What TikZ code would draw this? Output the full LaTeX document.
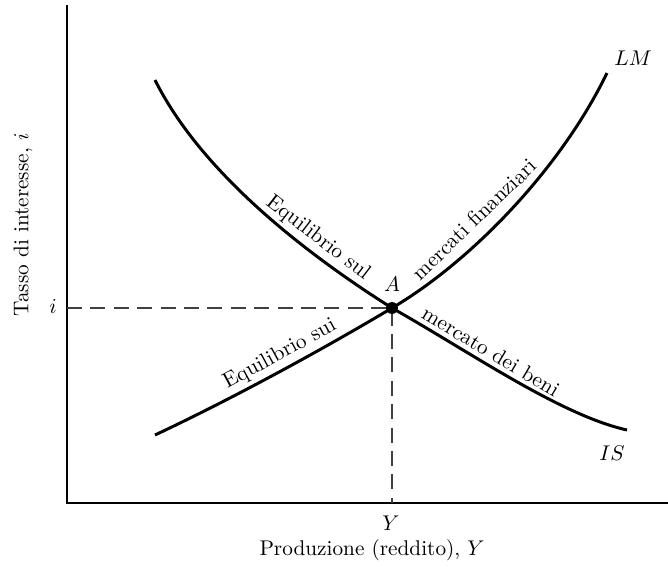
\documentclass[tikz,border=0pt]{standalone}
\usepackage{amsmath,amssymb}
\usetikzlibrary{positioning, calc}

\tikzset{
    curve/.style={line width=1.4pt},
    axis/.style={line width=0.7pt},
    guide/.style={dash pattern=on 7pt off 4pt, line width=0.5pt, black!75},
    curvelabel/.style={sloped, above, inner sep=2pt},
}

\begin{document}
\begin{tikzpicture}[x=0.47pt, y=-0.47pt]
    \useasboundingbox (0,0) rectangle (668,566);

    % --- Axes ---
    \coordinate (O) at (67,503);
    \coordinate (ytop) at (67,5);
    \coordinate (xend) at (668,503);
    \draw[axis] (ytop) -- (O) -- (xend);

    % --- Equilibrium point A ---
    \coordinate (A) at (392,308);
    \coordinate (iaxis) at (O |- A);
    \coordinate (Yaxis) at (A |- O);
    \draw[guide] (iaxis) -- (A) -- (Yaxis);

    % --- IS curve ---
    \draw[curve] (155,80) .. controls (200,170) and (300,250) .. (A)
        node[curvelabel, pos=0.7] (eqsul) {Equilibrio sul}
        .. controls (470,352) and (560,415) .. (627,430)
        node[curvelabel, pos=0.38] (beni) {mercato dei beni};

    % --- LM curve ---
    \draw[curve] (155,435) .. controls (240,395) and (330,345) .. (A)
        node[curvelabel, pos=0.52] (eqsui) {Equilibrio sui}
        .. controls (470,262) and (560,170) .. (607,73)
        node[curvelabel, pos=0.4, inner sep=5pt] (finanz) {mercati finanziari};

    \fill (A) circle (2.8pt);

    % Labels
    \node (Alab) at (392,284) {$A$};
    \node (LMlab) at (633,58) {$LM$};
    \node (ISlab) at (612,453) {$IS$};
    \node (ilab) at (53,306) {$i$};
    \node (Ylab) at (391,523) {$Y$};
    \node (xlab) at (372,550) {Produzione (reddito), $Y$};
    \node[rotate=90] (ylab) at (23,225) {Tasso di interesse, $i$};

\end{tikzpicture}
\end{document}
